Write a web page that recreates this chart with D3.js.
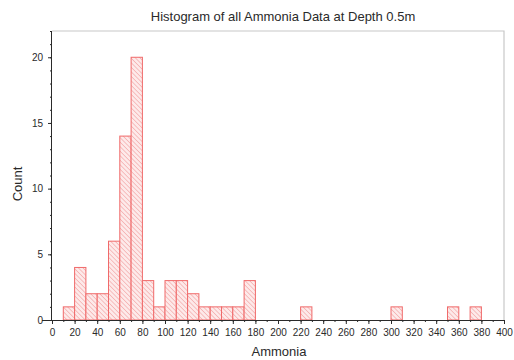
<!DOCTYPE html>
<html>
<head>
<meta charset="utf-8">
<script src="https://cdn.jsdelivr.net/npm/d3@7"></script>
<style>
  html, body { margin: 0; padding: 0; background: #fff; }
  svg { display: block; font-family: "Liberation Sans", Arial, sans-serif; }
</style>
</head>
<body>
<svg id="chart" width="514" height="360"></svg>
<script>
// Ammonia histogram, bins of width 10
const binStarts = [10, 20, 30, 40, 50, 60, 70, 80, 90, 100, 110, 120, 130, 140, 150, 160, 170, 220, 300, 350, 370];
const counts    = [1, 4, 2, 2, 6, 14, 20, 3, 1, 3, 3, 2, 1, 1, 1, 1, 3, 1, 1, 1, 1];
const binWidth = 10;
const xTickLabels = d3.range(0, 401, 20);
const yTickLabels = [0, 5, 10, 15, 20];

const title = "Histogram of all Ammonia Data at Depth 0.5m";
const xTitle = "Ammonia";
const yTitle = "Count";

const svg = d3.select("#chart");
const plotLeft = 52, plotRight = 504, plotTop = 31, plotBottom = 320;
const ink = "#2a2a2a";

const x = d3.scaleLinear().domain([0, 400]).range([plotLeft, plotRight]);
const y = d3.scaleLinear().domain([0, 22]).range([plotBottom, plotTop]);

// diagonal hatch fill
const defs = svg.append("defs");
const pat = defs.append("pattern")
  .attr("id", "hatch")
  .attr("patternUnits", "userSpaceOnUse")
  .attr("width", 3.2).attr("height", 3.2)
  .attr("patternTransform", "rotate(-45)");
pat.append("rect").attr("width", 3.2).attr("height", 3.2).attr("fill", "#fdeaea");
pat.append("line").attr("x1", 0).attr("y1", 0).attr("x2", 0).attr("y2", 3.2)
  .attr("stroke", "#f29a9a").attr("stroke-width", 1.1);

// frame (top and right)
svg.append("path")
  .attr("d", `M${plotLeft},${plotTop}H${plotRight}V${plotBottom}`)
  .attr("fill", "none").attr("stroke", "#c8c8c8").attr("stroke-width", 1.2);

// bars
const data = binStarts.map((s, i) => ({ s, c: counts[i] }));
svg.append("g").selectAll("rect").data(data).join("rect")
  .attr("x", d => x(d.s))
  .attr("y", d => y(d.c))
  .attr("width", d => x(d.s + binWidth) - x(d.s))
  .attr("height", d => y(0) - y(d.c))
  .attr("fill", "url(#hatch)")
  .attr("stroke", "#f06a6a")
  .attr("stroke-width", 1);

const tickFont = g => g.selectAll("text")
  .attr("font-size", 10).attr("fill", ink)
  .attr("font-family", "Liberation Sans, Arial, sans-serif");

// x axis
const xAxis = svg.append("g").attr("transform", `translate(0,${plotBottom})`);
xAxis.append("g")
  .call(d3.axisBottom(x).tickValues(d3.range(0, 401, 10)).tickSize(2).tickFormat(""))
  .call(g => g.select(".domain").remove());
xAxis.append("g")
  .call(d3.axisBottom(x).tickValues(xTickLabels).tickSize(4).tickSizeOuter(0).tickPadding(5).tickFormat(d3.format("d")))
  .call(g => g.select(".domain").attr("d", `M${plotLeft - 10},0.5H${plotRight}`))
  .call(tickFont);
xAxis.selectAll("line, path").attr("stroke", ink);

// y axis
const yAxis = svg.append("g").attr("transform", `translate(${plotLeft},0)`);
yAxis.append("g")
  .call(d3.axisLeft(y).tickValues(d3.range(0, 23, 1)).tickSize(2).tickFormat(""))
  .call(g => g.select(".domain").remove());
yAxis.append("g")
  .call(d3.axisLeft(y).tickValues(yTickLabels).tickSize(4).tickSizeOuter(0).tickPadding(5).tickFormat(d3.format("d")))
  .call(g => g.select(".domain").attr("d", `M-0.5,${plotBottom}V${plotTop}`))
  .call(tickFont);
yAxis.selectAll("line, path").attr("stroke", ink);

// titles
svg.append("text").attr("x", 283).attr("y", 21).attr("text-anchor", "middle")
  .attr("font-size", 13).attr("fill", ink).text(title);
svg.append("text").attr("x", 279).attr("y", 356).attr("text-anchor", "middle")
  .attr("font-size", 13).attr("fill", ink).text(xTitle);
svg.append("text").attr("transform", "translate(22,184) rotate(-90)").attr("text-anchor", "middle")
  .attr("font-size", 13).attr("fill", ink).text(yTitle);
</script>
</body>
</html>
